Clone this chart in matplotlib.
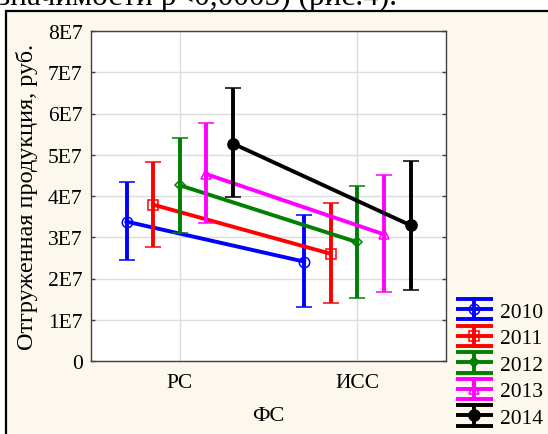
import matplotlib
matplotlib.use("Agg")
import matplotlib.pyplot as plt
from matplotlib.patches import Rectangle
from matplotlib.lines import Line2D
from matplotlib.legend_handler import HandlerBase
from matplotlib.ticker import FixedLocator

plt.rcParams['font.family'] = ['Liberation Serif', 'DejaVu Serif']

categories = ["PC", "ИСС"]
years = ["2010", "2011", "2012", "2013", "2014"]
means = {
    "2010": [33.8e6, 24.1e6],
    "2011": [37.9e6, 26.0e6],
    "2012": [42.6e6, 28.8e6],
    "2013": [45.3e6, 30.7e6],
    "2014": [52.7e6, 32.9e6],
}
upper = {
    "2010": [43.5e6, 35.4e6],
    "2011": [48.2e6, 38.3e6],
    "2012": [54.1e6, 42.4e6],
    "2013": [57.7e6, 45.2e6],
    "2014": [66.1e6, 48.5e6],
}
lower = {
    "2010": [24.5e6, 13.0e6],
    "2011": [27.7e6, 14.1e6],
    "2012": [31.1e6, 15.2e6],
    "2013": [33.4e6, 16.8e6],
    "2014": [39.7e6, 17.3e6],
}
yticks = [0, 1e7, 2e7, 3e7, 4e7, 5e7, 6e7, 7e7, 8e7]
ytick_labels = ["0", "1E7", "2E7", "3E7", "4E7", "5E7", "6E7", "7E7", "8E7"]

colors = ["#0000ff", "#ff0000", "#008000", "#ff00ff", "#000000"]
markers = ["o", "s", "D", "^", "o"]
msizes = [7.5, 7.5, 5, 7.5, 8]
filled = [False, False, False, False, True]
offsets = [-0.30, -0.15, 0.0, 0.15, 0.30]

W, H = 548, 435
fig = plt.figure(figsize=(W / 100, H / 100), dpi=100)
fig.patch.set_facecolor("white")

# document frame
frame = Rectangle((6 / W, -0.1), 1.2, 1.1 - 12 / H,
                  transform=fig.transFigure, facecolor="#fdf8ee",
                  edgecolor="black", linewidth=1.6, zorder=-10)
fig.patches.append(frame)
fig.text(-0.004, 1 - 4.5 / H, "значимости р<0,0005) (рис.4).", fontsize=22.5,
         va="baseline", ha="left", color="black", zorder=-5)

ax = fig.add_axes([91 / W, (H - 362) / H, 355 / W, 330 / H])
ax.set_facecolor("white")

for i, yr in enumerate(years):
    xs = [k + offsets[i] for k in range(len(categories))]
    m = means[yr]
    yerr = [[m[k] - lower[yr][k] for k in range(2)],
            [upper[yr][k] - m[k] for k in range(2)]]
    ax.errorbar(xs, m, yerr=yerr, color=colors[i], lw=2.8, elinewidth=2.8,
                capsize=6, capthick=2.8, marker=markers[i], ms=msizes[i],
                mfc=colors[i] if filled[i] else "none", mec=colors[i], mew=1.1,
                zorder=3 + i)

ax.set_xlim(-0.5, 1.5)
ax.set_ylim(0, 8e7)
ax.xaxis.set_major_locator(FixedLocator([0, 1]))
ax.set_xticklabels(categories)
ax.yaxis.set_major_locator(FixedLocator(yticks))
ax.set_yticklabels(ytick_labels)
ax.grid(True, color="#dcdcdc", lw=1.0, zorder=0)
ax.set_axisbelow(True)
for s in ax.spines.values():
    s.set_color("#404040")
    s.set_linewidth(1.0)
ax.tick_params(axis="y", direction="in", length=3, width=1, color="#404040",
               left=True, right=True, labelsize=15.5, pad=6)
ax.tick_params(axis="x", direction="in", length=0, labelsize=15.5, pad=9)
ax.set_xlabel("ФС", fontsize=16, labelpad=10)
ax.set_ylabel("Отгруженная продукция, руб.", fontsize=17.5, labelpad=7)


class HandlerIBeam(HandlerBase):
    def create_artists(self, legend, orig_handle, xdescent, ydescent,
                       width, height, fontsize, trans):
        c = orig_handle.get_color()
        cy = height / 2 - ydescent
        x0, x1 = -xdescent, -xdescent + width
        xc = (x0 + x1) / 2
        h = 7.3
        lw = 2.8
        arts = []
        for yy in (cy - h, cy, cy + h):
            arts.append(Line2D([x0, x1], [yy, yy], color=c, lw=lw,
                               solid_capstyle="butt", transform=trans))
        arts.append(Line2D([xc, xc], [cy - h, cy + h], color=c, lw=lw,
                           transform=trans))
        arts.append(Line2D([xc], [cy], color=c, lw=0,
                           marker=orig_handle.get_marker(),
                           ms=orig_handle.get_markersize(),
                           mfc=orig_handle.get_markerfacecolor(),
                           mec=c, mew=1.1, transform=trans))
        return arts


proxies = [Line2D([], [], color=colors[i], marker=markers[i], ms=msizes[i],
                  mfc=colors[i] if filled[i] else "none") for i in range(5)]
fig.legend(proxies, years, handler_map={Line2D: HandlerIBeam()},
           loc="lower left", bbox_to_anchor=(456 / W, 6 / H), frameon=False,
           fontsize=15.5, handlelength=1.7, handletextpad=0.35,
           labelspacing=0.3, borderpad=0, borderaxespad=0)

fig.savefig("out.png", dpi=100, facecolor=fig.get_facecolor())
